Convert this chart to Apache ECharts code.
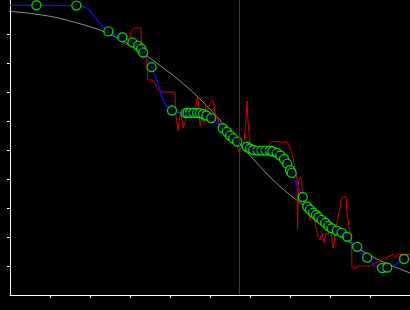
<!DOCTYPE html>
<html>
<head>
<meta charset="utf-8">
<script src="https://cdn.jsdelivr.net/npm/echarts@6/dist/echarts.min.js"></script>
<style>
html,body{margin:0;padding:0;background:#000;}
#c{width:410px;height:310px;}
</style>
</head>
<body>
<div id="c"></div>
<script>
// Tick positions (no labels shown)
var xTicks = [1,2,3,4,5,6,7,8,9];
var yTicks = [1,2,3,4,5,6,7,8,9];

// Vertical marker position
var markerX = 5.7375;

// Fitted smooth curve (gray)
var grayX = [-0.25,0,0.25,0.5,0.75,1,1.25,1.5,1.75,2,2.25,2.5,2.75,3,3.25,3.5,3.75,4,4.25,4.5,4.75,5,5.25,5.5,5.75,6,6.25,6.5,6.75,7,7.25,7.5,7.75,8,8.25,8.5,8.75,9,9.25,9.5,9.75,10];
var grayY = [9.828,9.783,9.748,9.714,9.666,9.610,9.541,9.448,9.355,9.252,9.138,8.990,8.828,8.621,8.414,8.172,7.914,7.655,7.379,7.086,6.759,6.414,6.034,5.621,5.207,4.810,4.431,4.069,3.741,3.448,3.190,2.931,2.655,2.379,2.069,1.810,1.569,1.362,1.190,1.034,0.897,0.759];

// Raw noisy signal (red)
var redX = [2.825,2.95,2.988,3.013,3.05,3.1,3.275,3.288,3.4,3.425,3.45,3.55,3.625,3.7,3.825,4.125,4.138,4.175,4.2,4.238,4.275,4.325,4.375,4.425,4.475,4.525,4.575,4.625,4.675,4.7,4.75,4.8,4.85,4.9,4.95,5.0,5.075,5.125,5.2,5.25,5.325,5.45,5.55,5.625,5.675,5.713,5.75,5.8,5.85,5.875,5.9,5.925,5.95,6.0,6.05,6.125,6.2,6.3,6.425,6.463,6.5,6.575,6.7,6.8,6.875,6.95,7.0,7.05,7.088,7.125,7.163,7.175,7.188,7.213,7.25,7.288,7.325,7.35,7.4,7.45,7.5,7.55,7.6,7.65,7.7,7.75,7.8,7.85,7.9,7.95,8.0,8.05,8.075,8.125,8.175,8.2,8.25,8.288,8.325,8.4,8.425,8.5,8.538,8.55,8.675,8.7,9.0,9.575,9.625,9.7,10.0];
var redY = [8.690,8.621,8.690,9.034,9.103,9.190,9.224,8.448,8.379,8.345,7.414,7.414,7.310,7.069,7.0,7.0,6.310,5.931,5.655,6.103,6.276,5.759,5.966,6.276,6.103,6.276,6.241,6.310,6.828,6.724,5.828,6.103,5.931,6.552,6.379,6.621,6.724,6.310,6.034,5.828,5.655,5.517,5.414,5.310,5.172,4.931,4.897,5.138,5.276,5.621,6.103,6.690,5.966,5.241,5.103,5.103,5.034,5.0,5.0,5.138,5.241,5.293,5.293,5.241,5.293,5.241,5.069,4.862,4.655,4.379,4.138,3.966,2.241,3.897,4.069,3.966,3.276,3.034,3.103,2.862,2.586,2.931,2.655,2.345,2.0,1.897,2.138,1.793,2.138,2.069,2.517,1.897,1.621,2.034,2.517,2.690,3.034,3.379,3.397,3.397,2.828,2.138,1.793,0.931,0.931,1.0,1.0,1.397,1.276,1.397,1.397];

// Sample points (green circles) joined by blue line
var ptX = [0.66,1.66,2.46,2.81,3.06,3.20,3.28,3.33,3.54,4.05,4.39,4.44,4.50,4.59,4.68,4.75,4.83,4.91,5.03,5.32,5.42,5.50,5.58,5.68,5.92,6.00,6.08,6.19,6.29,6.39,6.50,6.56,6.67,6.76,6.85,6.93,7.00,7.04,7.32,7.43,7.50,7.58,7.65,7.71,7.79,7.88,7.96,8.04,8.17,8.29,8.43,8.68,8.93,9.30,9.43,9.85];
var ptY = [9.99,9.98,9.09,8.89,8.71,8.60,8.49,8.36,7.86,6.36,6.28,6.28,6.28,6.28,6.28,6.27,6.24,6.19,6.10,5.75,5.63,5.50,5.40,5.29,5.11,5.05,5.00,4.98,4.98,4.98,4.98,4.95,4.90,4.81,4.69,4.53,4.31,4.21,3.38,3.05,2.95,2.84,2.76,2.68,2.59,2.49,2.38,2.30,2.22,2.15,2.01,1.66,1.29,0.93,0.95,1.24];
var blueStartX = 0, blueStartY = 9.99;

function zip(a,b){var r=[];for(var i=0;i<a.length;i++)r.push([a[i],b[i]]);return r;}
var grayData = zip(grayX, grayY);
var redData = zip(redX, redY);
var ptData = zip(ptX, ptY);
var blueData = [[blueStartX, blueStartY]].concat(ptData);

var chart = echarts.init(document.getElementById('c'), null, {renderer:'canvas'});
chart.setOption({
  backgroundColor:'#000',
  animation:false,
  grid:{left:10,right:0,top:0,bottom:15,containLabel:false},
  xAxis:{type:'value',min:0,max:10,
    axisLine:{show:true,onZero:false,lineStyle:{color:'#fff',width:1}},
    axisTick:{show:true,length:3,lineStyle:{color:'#fff'},customValues:xTicks},
    axisLabel:{show:false},splitLine:{show:false}},
  yAxis:{type:'value',min:0,max:295/29,
    axisLine:{show:true,onZero:false,lineStyle:{color:'#fff',width:1}},
    axisTick:{show:true,length:3,lineStyle:{color:'#fff'},customValues:yTicks},
    axisLabel:{show:false},splitLine:{show:false}},
  series:[
    {type:'line',data:grayData,symbol:'none',clip:false,z:1,
     lineStyle:{color:'#8c8c8c',width:1},
     markLine:{silent:true,symbol:'none',label:{show:false},
       lineStyle:{color:'#8b008b',width:1,type:'solid'},
       data:[{xAxis:markerX}]}},
    {type:'line',data:redData,symbol:'none',z:2,lineStyle:{color:'#d00000',width:1}},
    {type:'line',data:blueData,symbol:'none',smooth:0.5,z:3,lineStyle:{color:'#1010ff',width:1.2}},
    {type:'scatter',data:ptData,symbol:'circle',symbolSize:9,z:4,
     itemStyle:{color:'#000',borderColor:'#00ff00',borderWidth:1.4}},
    {type:'scatter',data:ptData,symbol:'circle',symbolSize:2,z:5,
     itemStyle:{color:'#0000ff'}}
  ]
});
</script>
</body>
</html>
